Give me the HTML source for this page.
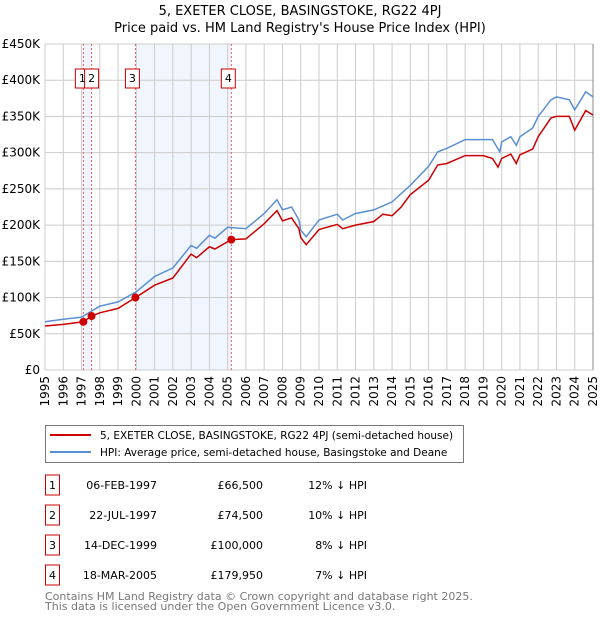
<!DOCTYPE html>
<html><head><meta charset="utf-8"><style>
body{margin:0;background:#fff;font-family:"DejaVu Sans","Liberation Sans",sans-serif;}
svg text{font-family:"DejaVu Sans","Liberation Sans",sans-serif;}
</style></head><body>
<svg id="c" width="600" height="620" xmlns="http://www.w3.org/2000/svg">
<text x="300" y="15" text-anchor="middle" font-size="13" fill="#000">5, EXETER CLOSE, BASINGSTOKE, RG22 4PJ</text>
<text x="300" y="32" text-anchor="middle" font-size="13" fill="#000">Price paid vs. HM Land Registry's House Price Index (HPI)</text>
<g id="plot"></g>
<g>
<rect x="45.5" y="425.5" width="418" height="37" fill="#fff" stroke="#777"/>
<line x1="50" y1="435" x2="91" y2="435" stroke="#cc0000" stroke-width="2"/>
<text x="100" y="439" font-size="10.5">5, EXETER CLOSE, BASINGSTOKE, RG22 4PJ (semi-detached house)</text>
<line x1="50" y1="452" x2="91" y2="452" stroke="#5b8fd4" stroke-width="2"/>
<text x="100" y="456" font-size="10.5">HPI: Average price, semi-detached house, Basingstoke and Deane</text>
</g>
<g id="table" font-size="11"></g>
<text x="45" y="600" font-size="11" fill="#777">Contains HM Land Registry data © Crown copyright and database right 2025.</text>
<text x="45" y="610" font-size="11" fill="#777">This data is licensed under the Open Government Licence v3.0.</text>
</svg>
<script>
const hpiYears=[1995,1996,1997,1998,1999,2000,2001,2002,2003,2003.3,2004,2004.3,2005,2006,2007,2007.7,2008,2008.5,2008.9,2009,2009.3,2010,2011,2011.3,2012,2013,2014,2015,2016,2016.5,2017,2018,2019,2019.5,2019.9,2020,2020.5,2020.8,2021,2021.7,2022,2022.7,2023,2023.7,2024,2024.6,2025];
const hpiValues=[66.7,70,73,88,94,108,129,141,172,168,186,182,197,195,216,235,221,225,207,193,184,207,215,207,216,221,232,255,281,301,306,318,318,318,301,315,322,310,322,334,350,373,377,373,359,384,377];
const redYears=[1995,1996,1997.1,1997.55,1998,1999,1999.95,2001,2002,2003,2003.3,2004,2004.3,2005.2,2006,2007,2007.7,2008,2008.5,2008.9,2009,2009.3,2010,2011,2011.3,2012,2013,2013.5,2014,2014.5,2015,2016,2016.5,2017,2018,2019,2019.5,2019.8,2020,2020.5,2020.8,2021,2021.7,2022,2022.7,2023,2023.7,2024,2024.6,2025];
const redValues=[60.7,63,66.5,74.5,79,85,100,117,127,160,155,170,167,180,181,202,220,206,210,195,183,173,194,201,195,200,205,215,213,225,242,262,283,285,296,296,292,280,292,298,285,297,305,322,348,350,350,331,358,352];
const saleYears=[1997.1,1997.55,1999.95,2005.2];
const saleValues=[66.5,74.5,100,179.95];
const saleLabels=["1","2","3","4"];
const saleDates=["06-FEB-1997","22-JUL-1997","14-DEC-1999","18-MAR-2005"];
const salePrices=["£66,500","£74,500","£100,000","£179,950"];
const saleDiffs=["12% ↓ HPI","10% ↓ HPI","8% ↓ HPI","7% ↓ HPI"];
const yTicks=[0,50,100,150,200,250,300,350,400,450];
const yTickLabels=["£0","£50K","£100K","£150K","£200K","£250K","£300K","£350K","£400K","£450K"];
const xTicks=[1995,1996,1997,1998,1999,2000,2001,2002,2003,2004,2005,2006,2007,2008,2009,2010,2011,2012,2013,2014,2015,2016,2017,2018,2019,2020,2021,2022,2023,2024,2025];
const NS="http://www.w3.org/2000/svg";
const X0=45,X1=593,Y0=370,Y1=44;
const xs=y=>X0+(y-1995)/30*(X1-X0);
const ys=v=>Y0-v/450*(Y0-Y1);
const plot=document.getElementById('plot');
function mk(t,a,p){const e=document.createElementNS(NS,t);for(const k in a)e.setAttribute(k,a[k]);(p||plot).appendChild(e);return e;}
let s1=mk('rect',{x:xs(saleYears[0]),y:Y1,width:xs(saleYears[1])-xs(saleYears[0]),height:Y0-Y1,fill:'#f1f5fd'});


let s2=mk('rect',{x:xs(saleYears[2]),y:Y1,width:xs(saleYears[3])-xs(saleYears[2]),height:Y0-Y1,fill:'#f1f5fd'});


yTicks.forEach((v,i)=>{
 let l=mk('line',{x1:X0,x2:X1,y1:ys(v),y2:ys(v),stroke:'#cccccc','stroke-width':1});
 
 
 let t=mk('text',{x:X0-5,y:ys(v)+4,'text-anchor':'end','font-size':12});
 t.textContent=yTickLabels[i];
 
 
});
xTicks.forEach(y=>{
 let l=mk('line',{x1:xs(y),x2:xs(y),y1:Y1,y2:Y0,stroke:'#cccccc','stroke-width':1});
 
 
 let t=mk('text',{x:0,y:0,'text-anchor':'end','font-size':12,transform:`translate(${xs(y)+4},${Y0+6}) rotate(-90)`});
 t.textContent=y;
 
 
});
let ax=mk('line',{x1:X1,x2:X1,y1:Y1,y2:Y0,stroke:'#888','stroke-width':1});


saleYears.forEach(y=>{
 let l=mk('line',{x1:xs(y),x2:xs(y),y1:Y1,y2:Y0,stroke:'#e06060','stroke-width':1,'stroke-dasharray':'2,2'});
 
 
});
function pts(a,b){return a.map((y,i)=>xs(y).toFixed(1)+','+ys(b[i]).toFixed(1)).join(' ');}
let hl=mk('polyline',{points:pts(hpiYears,hpiValues),fill:'none',stroke:'#5b8fd4','stroke-width':1.5});


let rl=mk('polyline',{points:pts(redYears,redValues),fill:'none',stroke:'#cc0000','stroke-width':1.5});


saleYears.forEach((y,i)=>{
 let c=mk('circle',{cx:xs(y),cy:ys(saleValues[i]),r:4,fill:'#cc0000'});
 
 
 let bxx=i===0?xs(y)-8:(i===1?xs(y)-7:xs(y)-10);
 let r=mk('rect',{x:bxx,y:69,width:14,height:19,fill:'#fff',stroke:'#cc0000','stroke-width':1});
 
 
 let t=mk('text',{x:bxx+7,y:82,'text-anchor':'middle','font-size':11});
 t.textContent=saleLabels[i];
 
 
});
const tb=document.getElementById('table');
saleLabels.forEach((lab,i)=>{
 const yy=483+i*30;
 let r=mk('rect',{x:45.5,y:yy-8,width:14,height:20,fill:'#fff',stroke:'#cc0000'},tb);
 
 
 let t=mk('text',{x:52.5,y:yy+6,'text-anchor':'middle'},tb);t.textContent=lab;
 
 
 let d=mk('text',{x:157,y:yy+6,'text-anchor':'end'},tb);d.textContent=saleDates[i];
 
 
 let p=mk('text',{x:263,y:yy+6,'text-anchor':'end'},tb);p.textContent=salePrices[i];
 
 
 let h=mk('text',{x:367,y:yy+6,'text-anchor':'end'},tb);h.textContent=saleDiffs[i];
 
 
});
</script>
</body></html>
